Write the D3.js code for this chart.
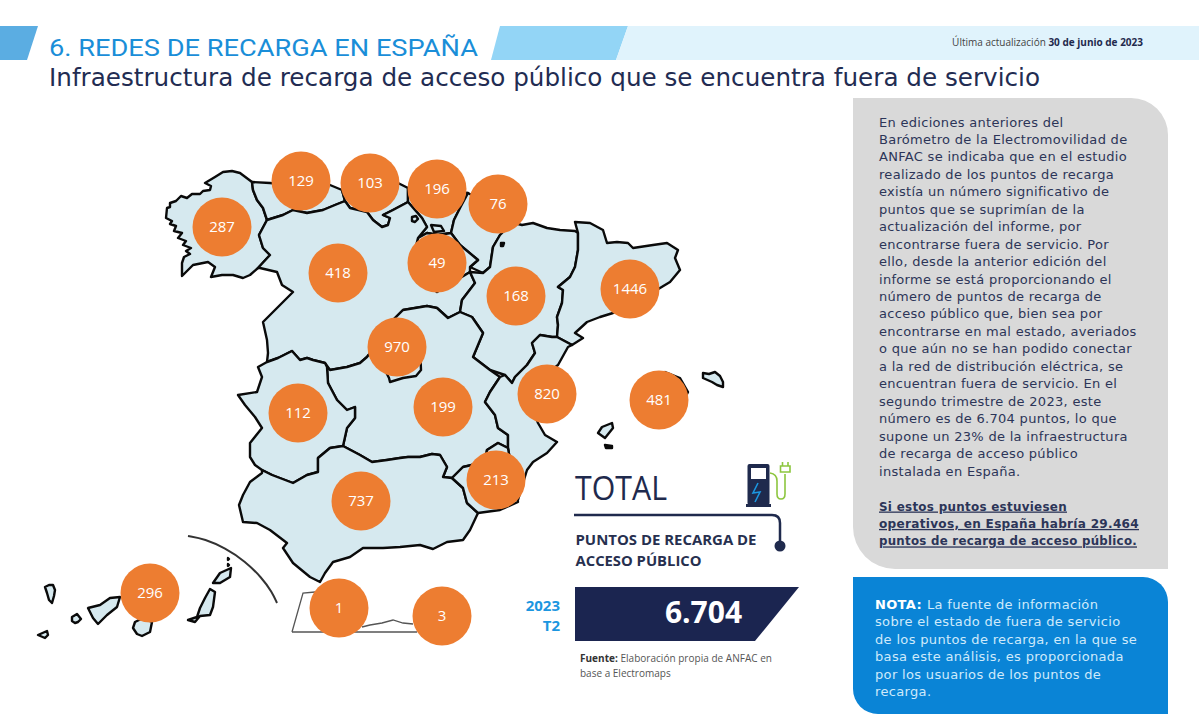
<!DOCTYPE html>
<html>
<head>
  <meta charset="UTF-8">
  <script src="https://d3js.org/d3.v7.min.js"></script>
  <title>Redes de recarga en España</title>
  <style>
    html, body { margin: 0; background: #fff; }
    svg { display: block; }
    .body-text { font-family: "DejaVu Sans", sans-serif; font-size: 13px; letter-spacing: 0.3px; fill: #2c3558; }
    .nota-text { font-family: "DejaVu Sans", sans-serif; font-size: 13px; letter-spacing: 0.34px; fill: #cfeafb; }
    .lbl { font-family: "Open Sans", sans-serif; }
  </style>
</head>
<body>
  <svg width="1199" height="728"></svg>

  <script>
    // values per region
    const regionNames = ["Galicia", "Asturias", "Cantabria", "País Vasco", "Navarra", "Castilla y León", "La Rioja", "Aragón", "Cataluña", "Madrid", "C. Valenciana", "Baleares", "Extremadura", "Castilla-La Mancha", "Andalucía", "Murcia", "Canarias", "Ceuta", "Melilla"];
    const regionValues = [287, 129, 103, 196, 76, 418, 49, 168, 1446, 970, 820, 481, 112, 199, 737, 213, 296, 1, 3];
    // bubble anchor in map units
    const regionAnchors = [[222,227],[301,181],[370,183],[437,189],[498,204],[338,273],[437,263],[516,296],[630,289],[397,347],[547,394],[659,400],[298,413],[443,407],[361,501],[496,480],[150,593],[339,608],[442,616]];

    // outlines in map units
    const galicia = [[252,182],[240,173],[232,171],[223,172],[215,177],[205,183],[211,186],[210,190],[203,191],[200,194],[192,194],[187,198],[181,196],[176,201],[170,203],[170,207],[167,208],[166,218],[172,221],[170,224],[176,226],[174,231],[182,233],[178,238],[186,241],[183,245],[191,248],[186,251],[190,254],[184,257],[182,263],[182,276],[193,265],[208,262],[215,267],[211,277],[222,275],[233,275],[243,278],[250,275],[258,268],[270,255],[263,248],[259,235],[267,220],[263,208],[257,200],[253,190]];
    const asturias = [[252,182],[270,183],[290,185],[330,185],[342,190],[345,201],[335,205],[323,210],[307,213],[293,210],[283,215],[267,220],[263,208],[257,200],[253,190]];
    const cantabria = [[342,190],[398,183],[408,188],[408,202],[393,210],[383,215],[390,218],[388,225],[382,227],[373,220],[367,212],[350,208],[345,201]];
    const paisVasco = [[408,188],[468,193],[460,208],[454,220],[451,233],[438,235],[427,233],[418,238],[427,227],[422,218],[408,202]];
    const navarra = [[468,193],[480,200],[510,222],[505,230],[500,235],[493,247],[490,267],[483,273],[470,267],[478,260],[460,245],[451,233],[454,220],[460,208]];
    const rioja = [[418,238],[427,233],[438,235],[451,233],[460,245],[478,260],[470,267],[470,272],[437,292],[410,270]];
    const castillaLeon = [[267,220],[283,215],[293,210],[307,213],[323,210],[335,205],[345,201],[350,208],[367,212],[373,220],[382,227],[388,225],[390,218],[383,215],[393,210],[408,202],[422,218],[427,227],[418,238],[410,270],[437,292],[470,272],[475,283],[462,300],[460,312],[448,318],[437,308],[427,306],[403,310],[395,318],[380,340],[367,357],[360,363],[347,367],[330,370],[325,363],[313,360],[307,358],[300,360],[292,351],[278,358],[267,362],[268,353],[267,340],[263,322],[275,310],[282,303],[293,292],[282,285],[277,272],[260,268],[258,268],[270,255],[263,248],[259,235]];
    const aragon = [[510,222],[522,225],[533,223],[547,228],[560,230],[575,231],[578,233],[578,250],[575,267],[570,277],[558,287],[563,290],[562,303],[557,317],[558,325],[557,337],[552,337],[540,335],[532,343],[535,353],[527,365],[515,377],[512,383],[505,375],[490,370],[473,357],[483,333],[472,317],[460,312],[462,300],[475,283],[470,272],[483,273],[490,267],[493,247],[500,235],[505,230]];
    const cataluna = [[575,222],[590,223],[603,230],[607,243],[617,242],[628,243],[633,248],[653,245],[667,243],[678,250],[675,258],[680,270],[670,282],[660,288],[640,300],[613,313],[600,317],[587,322],[575,333],[583,338],[572,345],[557,337],[558,325],[557,317],[562,303],[563,290],[558,287],[570,277],[575,267],[578,250],[578,233]];
    const madrid = [[375,360],[395,330],[420,345],[421,370],[416,376],[403,378],[390,382],[389,378],[385,370]];
    const valencia = [[512,383],[505,375],[500,377],[490,392],[485,402],[495,415],[498,428],[508,435],[508,448],[515,490],[518,500],[523,483],[527,470],[533,462],[547,453],[557,442],[545,435],[538,423],[530,400],[545,375],[558,365],[568,347],[572,345],[557,337],[552,337],[540,335],[532,343],[535,353],[527,365],[515,377]];
    const extremadura = [[327,367],[325,363],[313,360],[307,358],[300,360],[292,351],[278,358],[267,362],[258,367],[262,377],[257,392],[238,395],[245,405],[255,417],[262,428],[250,443],[250,457],[255,465],[262,470],[272,475],[293,483],[307,475],[318,472],[318,458],[330,448],[343,446],[345,437],[347,428],[355,418],[355,407],[347,410],[337,400],[328,383]];
    const castillaMancha = [[395,318],[403,310],[427,306],[437,308],[448,318],[460,312],[472,317],[483,333],[473,357],[490,370],[500,377],[490,392],[485,402],[495,415],[498,428],[508,435],[508,448],[498,443],[487,450],[485,462],[463,467],[452,478],[443,477],[447,467],[440,455],[432,454],[420,457],[408,457],[400,458],[387,460],[372,462],[360,455],[343,446],[345,437],[347,428],[355,418],[355,407],[347,410],[337,400],[328,383],[327,367],[330,370],[347,367],[360,363],[367,357],[380,340]];
    const andalucia = [[262,470],[262,473],[250,482],[243,495],[239,505],[243,522],[257,523],[270,530],[287,543],[283,548],[293,563],[310,577],[320,582],[325,573],[333,562],[350,557],[363,548],[383,548],[400,547],[420,545],[433,549],[447,542],[463,540],[470,530],[478,513],[467,503],[463,488],[452,478],[443,477],[447,467],[440,455],[432,454],[420,457],[408,457],[400,458],[387,460],[372,462],[360,455],[343,446],[330,448],[318,458],[318,472],[307,475],[293,483],[272,475]];
    const murcia = [[452,478],[463,467],[485,462],[487,450],[498,443],[508,448],[515,490],[518,502],[500,510],[478,513],[467,503],[463,488]];
    const enclaves = [
      [[412,217],[416,216],[418,219],[415,222],[412,221]],
      [[431,225],[441,226],[444,231],[434,232]],
      [[501,243],[504,243],[503,246],[501,246]]
    ];
    const islands = [
      [[640,385],[665,372],[680,378],[688,392],[685,398],[660,425],[640,415]],
      [[703,373],[709,374],[715,372],[720,376],[723,382],[723,387],[717,385],[712,382],[703,378]],
      [[598,433],[602,427],[612,423],[613,428],[605,438]],
      [[605,445],[612,446],[612,448],[606,448]],
      [[45,587],[49,585],[53,585],[55,590],[54,596],[52,603],[49,600],[47,593]],
      [[38,635],[47,631],[48,635],[45,638]],
      [[72,617],[77,614],[81,619],[78,622],[75,623],[72,621]],
      [[88,608],[100,605],[110,598],[120,597],[117,607],[107,615],[98,624],[93,618]],
      [[135,622],[133,628],[137,634],[142,636],[150,632],[152,622],[143,618]],
      [[210,589],[215,592],[213,607],[210,615],[200,616],[195,622],[188,620],[197,617],[200,608],[205,598]],
      [[213,583],[220,573],[231,568],[230,577],[220,583]],
      [[228,564],[229,565],[228,566]],
      [[228,558],[229,559],[228,560]]
    ];
    const canaryArc = [[188,536],[205,539],[225,548],[245,561],[262,578],[272,592],[277,603]];
    const northAfrica = [[292,632],[303,593],[315,592],[340,592],[350,632]];
    const northAfricaCoast = [[292,632],[417,632]];
    const melillaCoast = [[362,627],[370,625],[382,623],[393,620],[403,623],[413,624]];

    const grayLines = [
      "En ediciones anteriores del",
      "Barómetro de la Electromovilidad de",
      "ANFAC se indicaba que en el estudio",
      "realizado de los puntos de recarga",
      "existía un número significativo de",
      "puntos que se suprimían de la",
      "actualización del informe, por",
      "encontrarse fuera de servicio. Por",
      "ello, desde la anterior edición del",
      "informe se está proporcionando el",
      "número de puntos de recarga de",
      "acceso público que, bien sea por",
      "encontrarse en mal estado, averiados",
      "o que aún no se han podido conectar",
      "a la red de distribución eléctrica, se",
      "encuentran fuera de servicio. En el",
      "segundo trimestre de 2023, este",
      "número es de 6.704 puntos, lo que",
      "supone un 23% de la infraestructura",
      "de recarga de acceso público",
      "instalada en España."
    ];
    const boldLines = ["Si estos puntos estuviesen", "operativos, en España habría 29.464", "puntos de recarga de acceso público."];
    const notaLines = ["La fuente de información", "sobre el estado de fuera de servicio", "de los puntos de recarga, en la que se", "basa este análisis, es proporcionada", "por los usuarios de los puntos de", "recarga."];

    const svg = d3.select("svg");
    const projection = d3.geoIdentity();
    const path = d3.geoPath().projection(projection);
    const polygon = pts => ({ type: "Polygon", coordinates: [pts.concat([pts[0]])] });

    // header band
    const band = svg.append("g");
    band.append("path").attr("d", "M0,26H38L27,60H0Z").attr("fill", "#5bade2");
    band.append("path").attr("d", "M500,26H628L616,60H491Z").attr("fill", "#93d5f6");
    band.append("path").attr("d", "M628,26H1199V60H616Z").attr("fill", "#e0f3fc");

    svg.append("text").attr("x", 49).attr("y", 55.5)
      .attr("textLength", 429).attr("lengthAdjust", "spacingAndGlyphs")
      .style("font", "24px Roboto, sans-serif").attr("fill", "#1a8ed8")
      .text("6. REDES DE RECARGA EN ESPAÑA");
    svg.append("text").attr("x", 49).attr("y", 86)
      .attr("textLength", 991).attr("lengthAdjust", "spacingAndGlyphs")
      .style("font", "24px 'DejaVu Sans', sans-serif").attr("fill", "#222c52")
      .text("Infraestructura de recarga de acceso público que se encuentra fuera de servicio");

    const updated = svg.append("text").attr("x", 1143).attr("y", 45.5).attr("text-anchor", "end")
      .attr("class", "lbl").style("font-size", "10px").attr("fill", "#444");
    updated.append("tspan").text("Última actualización ");
    updated.append("tspan").attr("font-weight", 700).attr("fill", "#1f2a4d").text("30 de junio de 2023");

    // map
    const mapFill = "#d6e9ef";
    const outlines = [galicia, asturias, cantabria, paisVasco, navarra, rioja, castillaLeon, aragon, cataluna, castillaMancha, madrid, valencia, extremadura, andalucia, murcia].concat(enclaves, islands);

    svg.append("g").selectAll("path")
      .data(outlines)
      .enter()
      .append("path")
      .attr("d", d => path(polygon(d)))
      .attr("fill", mapFill)
      .attr("stroke", "#0a0a0a")
      .attr("stroke-width", 2.4)
      .attr("stroke-linejoin", "round");

    const line = d3.line().x(d => projection(d)[0]).y(d => projection(d)[1]);
    svg.append("path").attr("d", line.curve(d3.curveBasis)(canaryArc))
      .attr("fill", "none").attr("stroke", "#333").attr("stroke-width", 2);
    line.curve(d3.curveLinear);
    [northAfrica, northAfricaCoast, melillaCoast].forEach(d => {
      svg.append("path").attr("d", line(d))
        .attr("fill", "none").attr("stroke", "#555").attr("stroke-width", 1.3);
    });

    // bubbles
    const bubbleR = 29.5;
    const bubbles = svg.append("g").selectAll("g")
      .data(regionValues)
      .enter()
      .append("g")
      .attr("transform", (d, i) => `translate(${projection(regionAnchors[i])})`);
    bubbles.append("circle").attr("r", bubbleR).attr("fill", "#ed7d31");
    bubbles.append("text")
      .attr("text-anchor", "middle").attr("dy", 5)
      .attr("class", "lbl").style("font-size", "15px").attr("fill", "#fff")
      .text(d => d);
    bubbles.append("title").text((d, i) => regionNames[i]);

    // total block
    svg.append("text").attr("x", 575).attr("y", 500)
      .attr("textLength", 92).attr("lengthAdjust", "spacingAndGlyphs")
      .attr("class", "lbl").style("font-size", "32px").attr("fill", "#1f2a4d").text("TOTAL");
    svg.append("path").attr("d", "M574,515H772Q780,515 780,523V546")
      .attr("fill", "none").attr("stroke", "#1f2a4d").attr("stroke-width", 2.5);
    svg.append("circle").attr("cx", 780).attr("cy", 546).attr("r", 5.5).attr("fill", "#1f2a4d");
    svg.append("text").attr("x", 575.5).attr("y", 544.5).attr("textLength", 181).attr("lengthAdjust", "spacingAndGlyphs")
      .attr("class", "lbl").style("font-size", "14.5px").attr("font-weight", 700).attr("fill", "#27304f").text("PUNTOS DE RECARGA DE");
    svg.append("text").attr("x", 575.5).attr("y", 565.5).attr("textLength", 126).attr("lengthAdjust", "spacingAndGlyphs")
      .attr("class", "lbl").style("font-size", "14.5px").attr("font-weight", 700).attr("fill", "#27304f").text("ACCESO PÚBLICO");

    // pump icon
    const icon = svg.append("g");
    icon.append("rect").attr("x", 747.5).attr("y", 464).attr("width", 22).attr("height", 41).attr("rx", 2).attr("fill", "#1f2a4d");
    icon.append("rect").attr("x", 746).attr("y", 504).attr("width", 25).attr("height", 3).attr("fill", "#1f2a4d");
    icon.append("rect").attr("x", 751).attr("y", 468).attr("width", 15).attr("height", 11).attr("fill", "#fff");
    icon.append("path").attr("d", "M758,483L753,493L760,492L755,502").attr("fill", "none").attr("stroke", "#1c96e0").attr("stroke-width", 1.6);
    icon.append("path").attr("d", "M770,473Q777,474 777,481V494Q777,499 781,499Q785,499 785,494V474")
      .attr("fill", "none").attr("stroke", "#8dc63f").attr("stroke-width", 1.6);
    icon.append("path").attr("d", "M780.5,466H790V472H780.5ZM782.5,466V462M788,466V462")
      .attr("fill", "none").attr("stroke", "#8dc63f").attr("stroke-width", 1.6);

    svg.append("path").attr("d", "M575,587H799L755,641H575Z").attr("fill", "#1b2550");
    svg.append("text").attr("x", 703.5).attr("y", 623).attr("text-anchor", "middle")
      .attr("class", "lbl").style("font-size", "30px").attr("font-weight", 700).attr("fill", "#fff").text("6.704");
    svg.append("text").attr("x", 560).attr("y", 610.5).attr("text-anchor", "end")
      .attr("class", "lbl").style("font-size", "15px").attr("font-weight", 700).attr("fill", "#1c96e0").text("2023");
    svg.append("text").attr("x", 560).attr("y", 631).attr("text-anchor", "end")
      .attr("class", "lbl").style("font-size", "15px").attr("font-weight", 700).attr("fill", "#1c96e0").text("T2");

    const source = svg.append("text").attr("x", 580).attr("y", 662).attr("textLength", 192).attr("lengthAdjust", "spacing")
      .attr("class", "lbl").style("font-size", "10px").attr("fill", "#555");
    source.append("tspan").attr("font-weight", 700).attr("fill", "#333").text("Fuente: ");
    source.append("tspan").text("Elaboración propia de ANFAC en");
    svg.append("text").attr("x", 580).attr("y", 677)
      .attr("class", "lbl").style("font-size", "10px").attr("fill", "#555").text("base a Electromaps");

    // side panels
    svg.append("path").attr("d", "M853,98H1131A37,37 0 0 1 1168,135V569H895A42,42 0 0 1 853,527Z").attr("fill", "#d9d9d9");
    svg.append("path").attr("d", "M853,577H1143A25,25 0 0 1 1168,602V714H878A25,25 0 0 1 853,689Z").attr("fill", "#0a84d6");

    const lineStep = 17.45;
    svg.append("g").selectAll("text")
      .data(grayLines)
      .enter()
      .append("text")
      .attr("class", "body-text")
      .attr("x", 879)
      .attr("y", (d, i) => 126.5 + i * lineStep)
      .text(d => d);

    const boldWidths = [188, 260, 258];
    svg.append("g").selectAll("text")
      .data(boldLines)
      .enter()
      .append("text")
      .attr("class", "body-text")
      .attr("x", 879)
      .attr("y", (d, i) => 510.5 + i * lineStep)
      .attr("font-weight", 700)
      .attr("fill", "#1f2a4d")
      .attr("text-decoration", "underline")
      .attr("textLength", (d, i) => boldWidths[i])
      .attr("lengthAdjust", "spacingAndGlyphs")
      .text(d => d);

    svg.append("g").selectAll("text")
      .data(notaLines)
      .enter()
      .append("text")
      .attr("class", "nota-text")
      .attr("x", (d, i) => i === 0 ? 927 : 875)
      .attr("y", (d, i) => 608.5 + i * 17.5)
      .text(d => d);
    svg.append("text").attr("class", "nota-text").attr("x", 875).attr("y", 608.5)
      .attr("font-weight", 700).style("fill", "#fff").text("NOTA:");
  </script>
</body>
</html>
